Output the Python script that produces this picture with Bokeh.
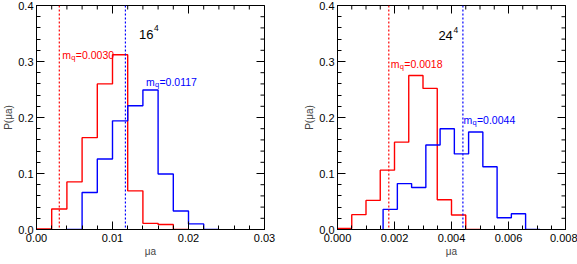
import math
from bokeh.plotting import figure
from bokeh.layouts import row
from bokeh.models import Span, FixedTicker, PrintfTickFormatter, Range1d
from bokeh.embed import file_html
from bokeh.resources import INLINE
from bokeh.core.properties import value

# ---- data: 16^4 lattice ----
edges16_red = [0.000, 0.002, 0.004, 0.006, 0.008, 0.010, 0.012, 0.014, 0.016, 0.018, 0.020]
vals16_red = [0.001, 0.0365, 0.085, 0.164, 0.260, 0.312, 0.069, 0.011, 0.009, 0.0]
edges16_blue = [0.004, 0.006, 0.008, 0.010, 0.012, 0.014, 0.016, 0.018, 0.020, 0.022, 0.024]
vals16_blue = [0.0, 0.066, 0.126, 0.194, 0.221, 0.249, 0.099, 0.033, 0.010, 0.0]
mq16 = [0.0030, 0.0117]
mq16_labels = ["=0.0030", "=0.0117"]

# ---- data: 24^4 lattice ----
edges24_red = [0.0000, 0.0005, 0.0010, 0.0015, 0.0020, 0.0025, 0.0030, 0.0035, 0.0040, 0.0045, 0.0050]
vals24_red = [0.002, 0.0265, 0.052, 0.106, 0.156, 0.275, 0.252, 0.053, 0.026, 0.0]
edges24_blue = [0.0016, 0.0021, 0.0026, 0.0031, 0.0036, 0.0041, 0.0046, 0.0051, 0.0056, 0.0061, 0.0066, 0.0071]
vals24_blue = [0.036, 0.082, 0.075, 0.151, 0.180, 0.135, 0.174, 0.112, 0.021, 0.028, 0.0]
mq24 = [0.0018, 0.0044]
mq24_labels = ["=0.0018", "=0.0044"]

x16_ticks = [0.0, 0.01, 0.02, 0.03]
x16_minor = [i * 0.002 for i in range(16)]
x24_ticks = [0.0, 0.002, 0.004, 0.006, 0.008]
x24_minor = [i * 0.0005 for i in range(17)]
y_ticks = [0.0, 0.1, 0.2, 0.3, 0.4]
y_minor = [i * 0.02 for i in range(21)]

FONT = "Liberation Sans"


def step_xy(edges, vals):
    xs = [edges[0]]
    ys = [0.0]
    for i, v in enumerate(vals):
        xs += [edges[i], edges[i + 1]]
        ys += [v, v]
    xs.append(edges[-1])
    ys.append(0.0)
    return xs, ys


def style_axis(ax, ticks, minor, fmt, standoff):
    ax.ticker = FixedTicker(ticks=ticks, minor_ticks=minor)
    ax.formatter = PrintfTickFormatter(format=fmt)
    ax.major_tick_in = 8
    ax.major_tick_out = 0
    ax.minor_tick_in = 4
    ax.minor_tick_out = 0
    ax.axis_line_color = "black"
    ax.major_tick_line_color = "black"
    ax.minor_tick_line_color = "black"
    ax.major_label_text_font = FONT
    ax.major_label_text_font_size = "11px"
    ax.major_label_text_color = "black"
    ax.major_label_standoff = standoff
    ax.axis_label_text_font = FONT
    ax.axis_label_text_font_size = "10px"
    ax.axis_label_text_font_style = "normal"
    ax.axis_label_standoff = 1


def mirror_ticks(p, xt, xm, xmax):
    # top edge ticks (markers centred on the edge, half clipped by the frame)
    p.scatter([t for t in xt], [0.4] * len(xt), marker="dash", size=16,
              angle=math.pi / 2, line_color="black", line_width=1)
    p.scatter([t for t in xm], [0.4] * len(xm), marker="dash", size=8,
              angle=math.pi / 2, line_color="black", line_width=1)
    # right edge ticks
    p.scatter([xmax] * len(y_ticks), y_ticks, marker="dash", size=16,
              line_color="black", line_width=1)
    p.scatter([xmax] * len(y_minor), y_minor, marker="dash", size=8,
              line_color="black", line_width=1)


def panel(xmax, xt, xm, xfmt, er, vr, eb, vb, mq, mql, title, tpos, lpos, mlb, mrb):
    p = figure(frame_width=228, frame_height=224,
               x_range=Range1d(0, xmax), y_range=Range1d(0, 0.4),
               output_backend="svg", toolbar_location=None,
               min_border_left=mlb, min_border_right=mrb,
               min_border_top=5, min_border_bottom=0)
    p.grid.visible = False
    p.outline_line_color = "black"
    p.xaxis.axis_label = "μa"
    p.yaxis.axis_label = "P(μa)"
    style_axis(p.xaxis[0], xt, xm, xfmt, 4)
    style_axis(p.yaxis[0], y_ticks, y_minor, "%.1f", 3)
    mirror_ticks(p, xt, xm, xmax)

    xs, ys = step_xy(er, vr)
    p.line(xs, ys, line_color="#ff0000", line_width=1.4)
    xs, ys = step_xy(eb, vb)
    p.line(xs, ys, line_color="#0000ff", line_width=1.4)

    colors = ["#ff0000", "#0000ff"]
    for m, c in zip(mq, colors):
        p.add_layout(Span(location=m, dimension="height", line_color=c,
                          line_dash="2 2", line_width=1.2))

    for (lx, ly), lab, c in zip(lpos, mql, colors):
        p.text([lx], [ly], text=["m"], text_color=c, text_font=value(FONT),
               text_font_size="10.5px", text_baseline="alphabetic")
        p.text([lx], [ly], text=["q"], text_color=c, text_font=value(FONT),
               text_font_size="7.5px", text_baseline="alphabetic",
               x_offset=9, y_offset=2.5)
        p.text([lx], [ly], text=[lab], text_color=c, text_font=value(FONT),
               text_font_size="10.5px", text_baseline="alphabetic", x_offset=13.5)

    p.text([tpos[0]], [tpos[1]], text=[title], text_color="black",
           text_font=value(FONT), text_font_size="13px", text_baseline="alphabetic")
    p.text([tpos[0]], [tpos[1]], text=["4"], text_color="black",
           text_font=value(FONT), text_font_size="8.5px", text_baseline="alphabetic",
           x_offset=15, y_offset=-6)
    return p


p1 = panel(0.03, x16_ticks, x16_minor, "%.2f", edges16_red, vals16_red,
           edges16_blue, vals16_blue, mq16, mq16_labels, "16", (0.0135, 0.349),
           [(0.0034, 0.312), (0.0144, 0.264)], 30, 37)
p2 = panel(0.008, x24_ticks, x24_minor, "%.3f", edges24_red, vals24_red,
           edges24_blue, vals24_blue, mq24, mq24_labels, "24", (0.00354, 0.346),
           [(0.00187, 0.295), (0.00442, 0.195)], 30, 12)

layout = row(p1, p2)
open("out.html", "w").write(file_html(layout, INLINE))
